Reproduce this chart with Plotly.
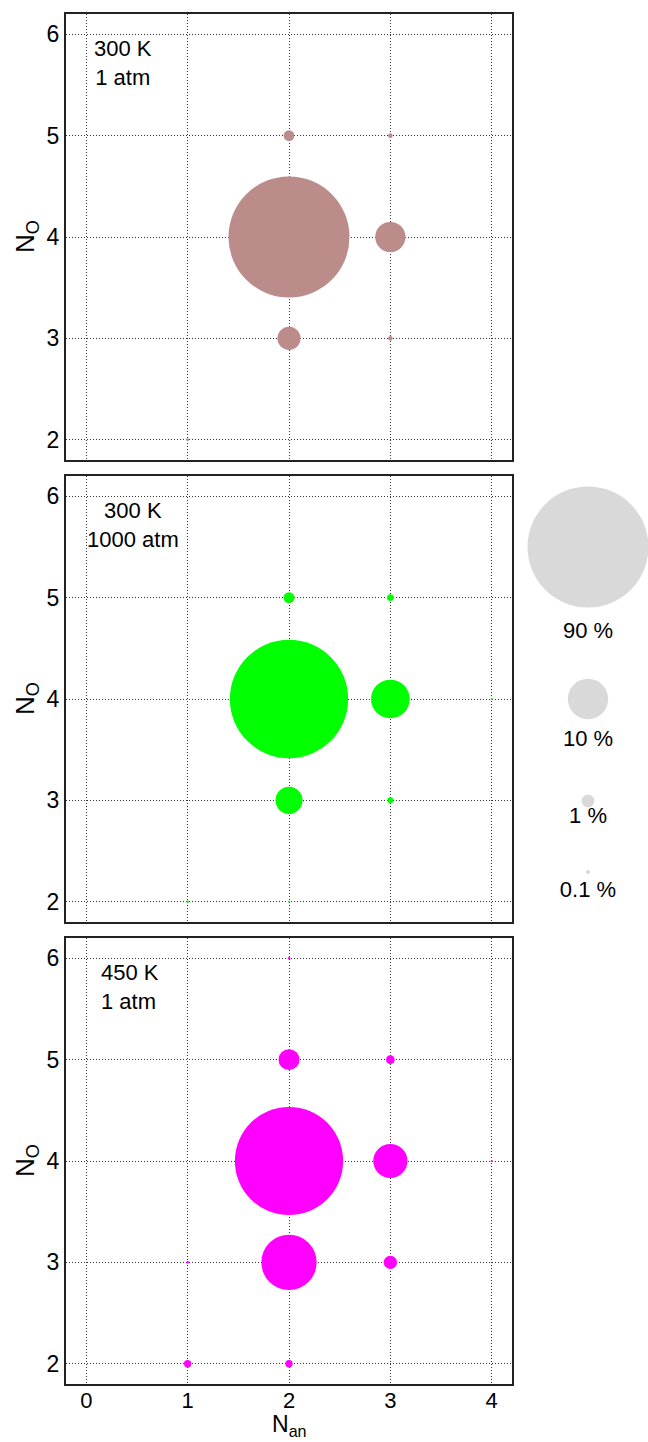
import plotly.graph_objects as go

W, H = 648, 1442

# Speciation at each condition: (N_an, N_O) pair and share in percent
an_300k_1atm = [2, 3, 2, 2, 3, 3, 1]
o_300k_1atm = [4, 4, 3, 5, 5, 3, 2]
pct_300k_1atm = [90.0, 5.6, 3.3, 0.70, 0.13, 0.13, 0.05]

an_300k_1000atm = [2, 3, 2, 2, 3, 3, 4, 1, 2]
o_300k_1000atm = [4, 4, 3, 5, 5, 3, 4, 2, 2]
pct_300k_1000atm = [86.0, 9.2, 4.5, 0.74, 0.27, 0.22, 0.025, 0.04, 0.03]

an_450k_1atm = [2, 2, 3, 2, 3, 3, 1, 2, 2, 1, 4]
o_450k_1atm = [4, 3, 4, 5, 3, 5, 2, 2, 6, 3, 4]
pct_450k_1atm = [72.0, 18.8, 7.2, 2.7, 1.1, 0.46, 0.33, 0.33, 0.04, 0.04, 0.03]

panel_labels = ["300 K<br>1 atm", "300 K<br>1000 atm", "450 K<br>1 atm"]
panel_colors = ["#BC8C8A", "#00FF00", "#FF00FF"]

key_pct = [90, 10, 1, 0.1]
key_labels = ["90 %", "10 %", "1 %", "0.1 %"]

x_ticks = [0, 1, 2, 3, 4]
y_ticks = [2, 3, 4, 5, 6]

# ---- layout constants (pixels) ----
FONT = "Liberation Sans, Arial, sans-serif"
PLOT_L, PLOT_R = 66, 512
PANEL_TOPS = [14, 476, 938]
PANEL_H = 446
LABEL_POS = [(123, "center"), (133, "center"), (99, "left")]
MAX_DIAM = 121  # pixel diameter of a 90 % bubble
SIZEREF = 2 * max(key_pct) / MAX_DIAM ** 2
KEY_L = 524
KEY_X = 588
KEY_MARK_Y = [547, 699, 801, 872]
KEY_TEXT_Y = [632, 740, 817, 891]

panels = [
    (an_300k_1atm, o_300k_1atm, pct_300k_1atm),
    (an_300k_1000atm, o_300k_1000atm, pct_300k_1000atm),
    (an_450k_1atm, o_450k_1atm, pct_450k_1atm),
]


def px_x(p):
    return p / W


def px_y(p):
    return 1 - p / H


fig = go.Figure()
layout = dict(
    width=W, height=H,
    margin=dict(l=0, r=0, t=0, b=0),
    paper_bgcolor="white", plot_bgcolor="rgba(0,0,0,0)",
    showlegend=False,
    font=dict(family=FONT, size=22, color="black"),
)

annotations = []
axis_common = dict(
    showline=True, mirror=True, linecolor="#222", linewidth=2,
    showgrid=True, gridcolor="#333", gridwidth=1, griddash="1px,2px",
    zeroline=False, ticks="", fixedrange=True,
    tickfont=dict(family=FONT, size=23, color="black"),
)

for i, (an, o, pct) in enumerate(panels):
    k = i + 1
    xs = "" if k == 1 else str(k)
    fig.add_trace(go.Scatter(
        x=an, y=o, mode="markers",
        xaxis="x" + xs, yaxis="y" + xs,
        marker=dict(size=pct, sizemode="area", sizeref=SIZEREF, sizemin=0,
                    color=panel_colors[i], opacity=1, line=dict(width=0)),
        hoverinfo="skip",
    ))
    top = PANEL_TOPS[i]
    bottom = top + PANEL_H
    layout["xaxis" + xs] = dict(
        axis_common,
        domain=[px_x(PLOT_L), px_x(PLOT_R)],
        range=[-0.2, 4.2], tickvals=x_ticks,
        showticklabels=(k == 3), anchor="y" + xs,
        ticklabelstandoff=-4,
        tickfont=dict(family=FONT, size=22, color="black"),
    )
    layout["yaxis" + xs] = dict(
        axis_common,
        domain=[px_y(bottom), px_y(top)],
        range=[1.8, 6.2], tickvals=y_ticks,
        anchor="x" + xs,
    )
    # condition label inside panel
    lx, lalign = LABEL_POS[i]
    annotations.append(dict(
        text=panel_labels[i], xref="paper", yref="paper",
        x=px_x(lx), y=px_y(top + 49),
        xanchor=lalign, yanchor="middle",
        align=lalign, showarrow=False,
        font=dict(family=FONT, size=22, color="black"),
    ))
    # y-axis title
    annotations.append(dict(
        text="N<sub>O</sub>", xref="paper", yref="paper",
        x=px_x(26), y=px_y(top + PANEL_H / 2), xanchor="center", yanchor="middle",
        textangle=-90, showarrow=False,
        font=dict(family=FONT, size=26, color="black"),
    ))

annotations.append(dict(
    text="N<sub>an</sub>", xref="paper", yref="paper",
    x=px_x((PLOT_L + PLOT_R) / 2), y=px_y(H), xanchor="center", yanchor="bottom",
    showarrow=False, font=dict(family=FONT, size=23, color="black"),
))

# size key on a hidden pixel-scaled axis to the right of the panels
fig.add_trace(go.Scatter(
    x=[KEY_X] * len(key_pct), y=KEY_MARK_Y, mode="markers",
    xaxis="x4", yaxis="y4",
    marker=dict(size=key_pct, sizemode="area", sizeref=SIZEREF, sizemin=0,
                color="#D9D9D9", opacity=1, line=dict(width=0)),
    hoverinfo="skip", cliponaxis=False,
))
fig.add_trace(go.Scatter(
    x=[KEY_X] * len(key_labels), y=KEY_TEXT_Y, mode="text",
    xaxis="x4", yaxis="y4", text=key_labels,
    textfont=dict(family=FONT, size=22, color="black"),
    hoverinfo="skip", cliponaxis=False,
))
layout["xaxis4"] = dict(domain=[px_x(KEY_L), 1], range=[KEY_L, W], visible=False,
                        fixedrange=True, anchor="y4")
layout["yaxis4"] = dict(domain=[0, 1], range=[H, 0], visible=False,
                        fixedrange=True, anchor="x4")

layout["annotations"] = annotations
fig.update_layout(**layout)

fig.write_html("out.html")
